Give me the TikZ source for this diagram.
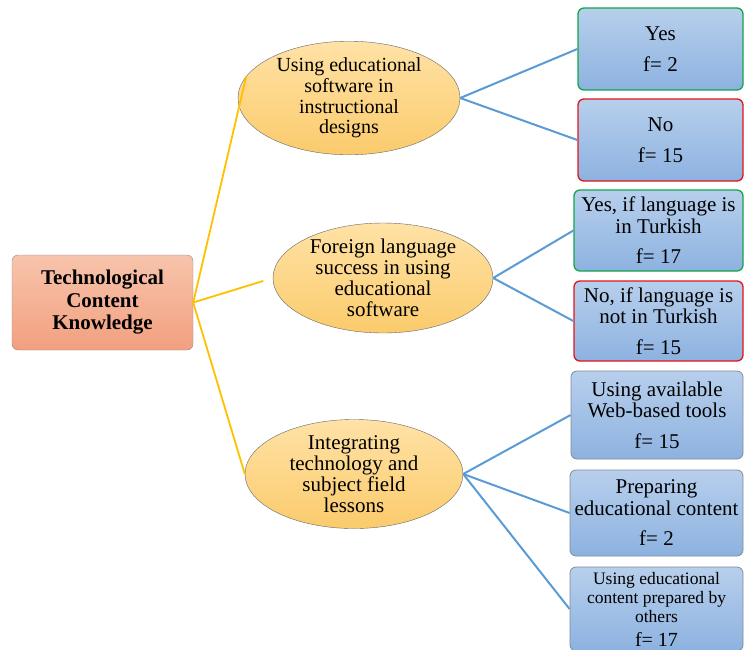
\documentclass[tikz,border=0pt]{standalone}
\usepackage{fontspec}
\setmainfont{Liberation Serif}
\usetikzlibrary{shapes.geometric}

\definecolor{rootTop}{HTML}{F7C4AC}
\definecolor{rootBot}{HTML}{F2A07F}
\definecolor{topicTop}{HTML}{FFE2A6}
\definecolor{topicBot}{HTML}{FBCB6C}
\definecolor{ansTop}{HTML}{B7CFEC}
\definecolor{ansBot}{HTML}{8DB2E0}
\definecolor{yesGreen}{HTML}{12A54C}
\definecolor{noRed}{HTML}{E2141B}
\definecolor{plainGray}{HTML}{7F8C9A}
\definecolor{branchYellow}{HTML}{FFC000}
\definecolor{branchBlue}{HTML}{5B9BD5}

\begin{document}
\begin{tikzpicture}[x=1pt,y=-1pt,
	every node/.style={font=\fontsize{21}{21.5}\selectfont,align=center},
	rootbox/.style={rectangle,draw=black!45,rounded corners=6pt,top color=rootTop,bottom color=rootBot,
		minimum width=181pt,minimum height=95pt,inner sep=0pt,font=\bfseries\fontsize{21}{22.5}\selectfont},
	topic/.style={ellipse,draw=black!60,top color=topicTop,bottom color=topicBot,inner sep=0pt,
		font=\fontsize{21}{21}\selectfont},
	answer/.style={rectangle,rounded corners=6pt,line width=1.3pt,top color=ansTop,bottom color=ansBot,inner sep=0pt},
	yesbox/.style={answer,draw=yesGreen},
	nobox/.style={answer,draw=noRed},
	plainbox/.style={answer,draw=plainGray,line width=0.8pt},
	yline/.style={draw=branchYellow,line width=1.8pt},
	bline/.style={draw=branchBlue,line width=2pt}]
	\clip (0,0) rectangle (744,649);
	% root
	\node[rootbox] (tck) at (102.5,302.5) {Technological\\Content\\Knowledge};
	% topics
	\node[topic,minimum width=222pt,minimum height=99pt,font=\fontsize{20}{20.7}\selectfont] (soft) at (349,98) {Using educational\\software in\\instructional\\designs};
	\node[topic,minimum width=220pt,minimum height=100pt] (lang) at (383,278) {Foreign language\\success in using\\educational\\software};
	\node[topic,minimum width=218pt,minimum height=98pt] (integ) at (354,474) {Integrating\\technology and\\subject field\\lessons};
	% answers
	\node[yesbox,minimum width=165pt,minimum height=82pt] (softyes) at (660.5,49) {Yes\\[9pt]f= 2};
	\node[nobox,minimum width=165pt,minimum height=82pt] (softno) at (660.5,140) {No\\[9pt]f= 15};
	\node[yesbox,minimum width=169pt,minimum height=81pt] (langyes) at (658.5,230.5) {Yes, if language is\\in Turkish\\[9pt]f= 17};
	\node[nobox,minimum width=169pt,minimum height=80pt] (langno) at (658.5,321) {No, if language is\\not in Turkish\\[9pt]f= 15};
	\node[plainbox,minimum width=172pt,minimum height=88pt] (web) at (657,415) {Using available\\Web-based tools\\[9pt]f= 15};
	\node[plainbox,minimum width=173pt,minimum height=86pt] (prep) at (656.5,513) {Preparing\\educational content\\[9pt]f= 2};
	\node[plainbox,minimum width=173pt,minimum height=84pt,font=\fontsize{17.5}{19}\selectfont] (others) at (656.5,609)
		{Using educational\\content prepared by\\others\\[5pt]\fontsize{20}{20}\selectfont f= 17};
	% yellow branches
	\draw[yline] (tck.east) -- (soft.168);
	\draw[yline,shorten >=10pt] (tck.east) -- (lang.west);
	\draw[yline] (tck.east) -- (integ.west);
	% blue branches
	\foreach \t/\a in {soft/softyes,soft/softno,lang/langyes,lang/langno,integ/web,integ/prep,integ/others}
		\draw[bline] (\t.east) -- (\a.west);
\end{tikzpicture}
\end{document}
